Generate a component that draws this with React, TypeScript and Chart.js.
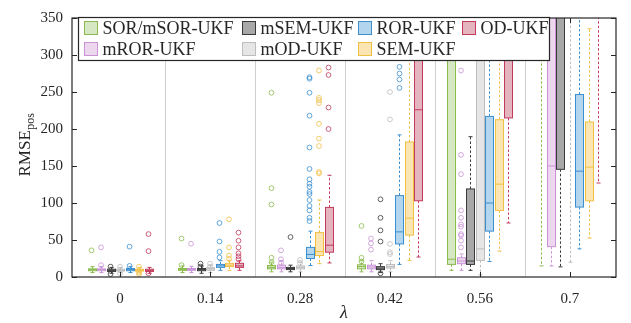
import React, { useEffect, useRef } from "react";
import { Chart, registerables } from "chart.js";

Chart.register(...registerables);

// ---------------- data ----------------
const categories = [0, 0.14, 0.28, 0.42, 0.56, 0.7];
const categoryLabels = ["0", "0.14", "0.28", "0.42", "0.56", "0.7"];
const yTicks = [0, 50, 100, 150, 200, 250, 300, 350];
const seriesNames = ["SOR/mSOR-UKF", "mROR-UKF", "mSEM-UKF", "mOD-UKF", "ROR-UKF", "SEM-UKF", "OD-UKF"];

// per category: [lower whisker, Q1, median, Q3, upper whisker]
const sorBoxes = [
  [6, 8.5, 10, 11, 14],
  [6, 9, 10, 11.5, 15],
  [7, 11, 13, 15.5, 20],
  [7, 11, 14, 16.5, 22],
  [9, 17, 24, 400, 700],
  [15, 380, 450, 550, 800],
];
const mrorBoxes = [
  [6, 8.5, 10, 11, 14],
  [6, 9, 10, 11.5, 14.5],
  [7, 11, 13, 16, 22],
  [7, 11, 13.5, 16, 22],
  [9, 18, 21.6, 26, 31],
  [15, 41, 150, 400, 700],
];
const msemBoxes = [
  [5, 7.5, 9, 10.5, 13],
  [5, 8.5, 10, 11.5, 15],
  [7, 10, 11.5, 13, 16],
  [6, 10, 12, 14, 18],
  [9, 17, 21.6, 119, 189.6],
  [13.7, 145.5, 380, 500, 800],
];
const modBoxes = [
  [6, 8, 9, 10.5, 13],
  [6, 9, 11, 12.5, 16],
  [7, 11, 13, 15, 20],
  [7, 12, 14, 17, 22],
  [3, 22.5, 38, 380, 600],
  [20, 370, 450, 550, 800],
];
const rorBoxes = [
  [6, 8.5, 10, 11.5, 14],
  [9, 13, 15, 17, 22],
  [15.5, 25, 30.5, 40, 62],
  [17, 44.7, 61, 110, 192],
  [21, 62, 100, 217, 400],
  [38, 94.5, 143, 246.6, 420],
];
const semBoxes = [
  [5.5, 8, 9, 10.5, 13],
  [9, 14, 16, 18.5, 22.5],
  [18, 29, 34.5, 60, 104],
  [22.5, 56.6, 79.5, 182.5, 400],
  [35, 90, 125.5, 212.5, 420],
  [52.6, 103, 148.5, 209.5, 335.5],
];
const odBoxes = [
  [5, 7.5, 9, 10.5, 13],
  [9, 13, 15, 18.5, 22],
  [19, 33.5, 43, 94, 137.5],
  [27, 103, 226, 420, 600],
  [73, 215, 380, 500, 700],
  [127, 370, 450, 550, 800],
];

// outliers per category
const sorOutliers = [[36], [52, 16], [249, 120, 98, 26, 20], [69, 26, 21], [], []];
const mrorOutliers = [[40, 16], [45], [36, 24, 19], [52, 45.5, 37], [279, 165, 139, 90, 80, 71, 68, 58, 56, 49, 40], []];
const msemOutliers = [[14, 4], [18, 14], [54], [105, 80, 63, 48, 5], [346], []];
const modOutliers = [[14, 5], [18, 14], [23, 19], [250, 213, 44.7, 33.5, 31], [349], []];
const rorOutliers = [[41, 15], [73, 48, 34, 26.5], [75.6, 80, 90, 96, 104, 112, 115, 122, 126, 132, 146, 175, 218, 249, 268, 270], [255.5, 267, 275, 284], [], []];
const semOutliers = [[14, 6, 4], [78, 40, 29, 24.5], [140, 142, 177, 187, 207, 235, 239, 242, 279, 352], [], [], []];
const odOutliers = [[58, 35, 5], [60, 49, 40, 32, 28, 24], [200, 229, 273, 283, 347], [], [], []];

const allBoxes = [sorBoxes, mrorBoxes, msemBoxes, modBoxes, rorBoxes, semBoxes, odBoxes];
const allOutliers = [sorOutliers, mrorOutliers, msemOutliers, modOutliers, rorOutliers, semOutliers, odOutliers];

// ---------------- styles ----------------
const edgeColors = ["#8abb4c", "#c993d6", "#3a3a3a", "#bdbdbd", "#3b8fd0", "#f0bf45", "#c23a5c"];
const fillColors = ["#d6e7c3", "#ecd7ef", "#a8a8a8", "#e5e5e5", "#b4d5ee", "#fbe6b3", "#e4b4bf"];
const STEP = 0.01478; // offset between boxes inside one group (x units)
const BOX_W = 8;
const CAP_W = 4;
const FONT = '"Liberation Serif", "Times New Roman", serif';
const AXIS_COLOR = "#262626";

const offsetX = (j: number) => (j - 3) * STEP;

const boxPlugin = {
  id: "boxplots",
  beforeDatasetsDraw(chart: any) {
    const { ctx, chartArea, scales } = chart;
    const x = scales.x;
    const y = scales.y;
    ctx.save();
    // group separators
    ctx.strokeStyle = "#cfcfcf";
    ctx.lineWidth = 1;
    for (let i = 0; i < categories.length - 1; i++) {
      const px = Math.round(x.getPixelForValue((categories[i] + categories[i + 1]) / 2)) + 0.5;
      ctx.beginPath();
      ctx.moveTo(px, chartArea.top);
      ctx.lineTo(px, chartArea.bottom);
      ctx.stroke();
    }
    ctx.beginPath();
    ctx.rect(chartArea.left, chartArea.top, chartArea.right - chartArea.left, chartArea.bottom - chartArea.top);
    ctx.clip();
    allBoxes.forEach((boxes, j) => {
      boxes.forEach((b, i) => {
        const cx = Math.round(x.getPixelForValue(categories[i] + offsetX(j))) + 0.5;
        const [lo, q1, med, q3, hi] = b.map((v) => y.getPixelForValue(v));
        ctx.strokeStyle = edgeColors[j];
        ctx.lineWidth = 1;
        // whiskers
        ctx.setLineDash([2.5, 2]);
        ctx.beginPath();
        ctx.moveTo(cx, q3);
        ctx.lineTo(cx, hi);
        ctx.moveTo(cx, q1);
        ctx.lineTo(cx, lo);
        ctx.stroke();
        ctx.setLineDash([]);
        ctx.beginPath();
        ctx.moveTo(cx - CAP_W / 2, hi);
        ctx.lineTo(cx + CAP_W / 2, hi);
        ctx.moveTo(cx - CAP_W / 2, lo);
        ctx.lineTo(cx + CAP_W / 2, lo);
        ctx.stroke();
        // box
        ctx.fillStyle = fillColors[j];
        ctx.fillRect(cx - BOX_W / 2, q3, BOX_W, q1 - q3);
        ctx.strokeRect(cx - BOX_W / 2, q3, BOX_W, q1 - q3);
        // median
        ctx.beginPath();
        ctx.moveTo(cx - BOX_W / 2, med);
        ctx.lineTo(cx + BOX_W / 2, med);
        ctx.stroke();
      });
    });
    ctx.restore();
  },
  afterDatasetsDraw(chart: any) {
    const { ctx, chartArea, scales } = chart;
    const x = scales.x;
    const y = scales.y;
    const { left, right, top, bottom } = chartArea;
    ctx.save();
    // frame
    ctx.strokeStyle = AXIS_COLOR;
    ctx.lineWidth = 1.2;
    ctx.strokeRect(left, top, right - left, bottom - top);
    // inward ticks
    ctx.lineWidth = 1;
    const TL = 5;
    ctx.beginPath();
    categories.forEach((c) => {
      const px = Math.round(x.getPixelForValue(c)) + 0.5;
      ctx.moveTo(px, bottom);
      ctx.lineTo(px, bottom - TL);
      ctx.moveTo(px, top);
      ctx.lineTo(px, top + TL);
    });
    yTicks.forEach((v) => {
      const py = Math.round(y.getPixelForValue(v)) + 0.5;
      ctx.moveTo(left, py);
      ctx.lineTo(left + TL, py);
      ctx.moveTo(right, py);
      ctx.lineTo(right - TL, py);
    });
    ctx.stroke();

    // legend
    const lx = 78.5, ly = 17.5, lw = 471, lh = 43;
    ctx.fillStyle = "#ffffff";
    ctx.fillRect(lx, ly, lw, lh);
    ctx.strokeStyle = AXIS_COLOR;
    ctx.lineWidth = 1.2;
    ctx.strokeRect(lx, ly, lw, lh);
    const colX = [84.5, 242.5, 358.5, 462.5];
    const rowY = [28, 49];
    ctx.font = `18px ${FONT}`;
    ctx.textBaseline = "middle";
    ctx.textAlign = "left";
    seriesNames.forEach((name, j) => {
      const col = Math.floor(j / 2);
      const row = j % 2;
      const sx = colX[col];
      const sy = rowY[row] - 6.5;
      ctx.fillStyle = fillColors[j];
      ctx.fillRect(sx, sy, 13, 13);
      ctx.strokeStyle = edgeColors[j];
      ctx.lineWidth = 1;
      ctx.strokeRect(sx, sy, 13, 13);
      ctx.fillStyle = AXIS_COLOR;
      ctx.fillText(name, sx + 18, rowY[row] + 1);
    });

    // y title
    ctx.save();
    ctx.translate(29.5, 145);
    ctx.rotate(-Math.PI / 2);
    ctx.font = `17px ${FONT}`;
    const w1 = ctx.measureText("RMSE").width;
    ctx.font = `12px ${FONT}`;
    const w2 = ctx.measureText("pos").width;
    const sx = -(w1 + w2) / 2;
    ctx.textBaseline = "alphabetic";
    ctx.fillStyle = AXIS_COLOR;
    ctx.font = `17px ${FONT}`;
    ctx.fillText("RMSE", sx, 0);
    ctx.font = `12px ${FONT}`;
    ctx.fillText("pos", sx + w1 + 0.5, 4);
    ctx.restore();

    // x title
    ctx.font = `italic 18px ${FONT}`;
    ctx.textAlign = "center";
    ctx.textBaseline = "middle";
    ctx.fillStyle = AXIS_COLOR;
    ctx.fillText("λ", (left + right) / 2, 313);
    ctx.restore();
  },
};

export default function App() {
  const canvasRef = useRef<HTMLCanvasElement | null>(null);

  useEffect(() => {
    const canvas = canvasRef.current;
    if (!canvas) return;
    const datasets = allOutliers.map((outs, j) => ({
      label: seriesNames[j],
      data: outs.flatMap((vals, i) => vals.map((v) => ({ x: categories[i] + offsetX(j), y: v }))),
      pointRadius: 2.4,
      pointHoverRadius: 2.4,
      pointBorderWidth: 0.8,
      pointStyle: "circle",
      borderColor: edgeColors[j],
      backgroundColor: "rgba(0,0,0,0)",
      showLine: false,
      clip: 0,
    }));
    const chart = new Chart(canvas, {
      type: "scatter",
      data: { datasets },
      plugins: [boxPlugin],
      options: {
        animation: false,
        responsive: false,
        maintainAspectRatio: false,
        layout: { padding: { top: 12, right: 15, left: 0, bottom: 0 } },
        plugins: { legend: { display: false }, tooltip: { enabled: false } },
        scales: {
          x: {
            type: "linear",
            min: -0.0747,
            max: 0.7716,
            afterBuildTicks: (s: any) => {
              s.ticks = categories.map((v) => ({ value: v }));
            },
            afterFit: (s: any) => {
              s.height = 46;
            },
            ticks: {
              autoSkip: false,
              maxRotation: 0,
              padding: 13,
              color: AXIS_COLOR,
              font: { family: FONT, size: 15 },
              callback: (v: any) => {
                const idx = categories.findIndex((c) => Math.abs(c - Number(v)) < 1e-6);
                return idx >= 0 ? categoryLabels[idx] : "";
              },
            },
            grid: { display: false, drawTicks: false },
            border: { display: false },
          },
          y: {
            type: "linear",
            min: 0,
            max: 350,
            afterBuildTicks: (s: any) => {
              s.ticks = yTicks.map((v) => ({ value: v }));
            },
            afterFit: (s: any) => {
              s.width = 72;
            },
            ticks: {
              padding: 9,
              color: AXIS_COLOR,
              font: { family: FONT, size: 15 },
            },
            grid: { display: false, drawTicks: false },
            border: { display: false },
          },
        },
      },
    } as any);
    return () => chart.destroy();
  }, []);

  return (
    <div style={{ position: "fixed", left: 0, top: 0, width: 631, height: 323, background: "#ffffff" }}>
      <canvas ref={canvasRef} width={631} height={323} style={{ display: "block", width: 631, height: 323 }} />
    </div>
  );
}
